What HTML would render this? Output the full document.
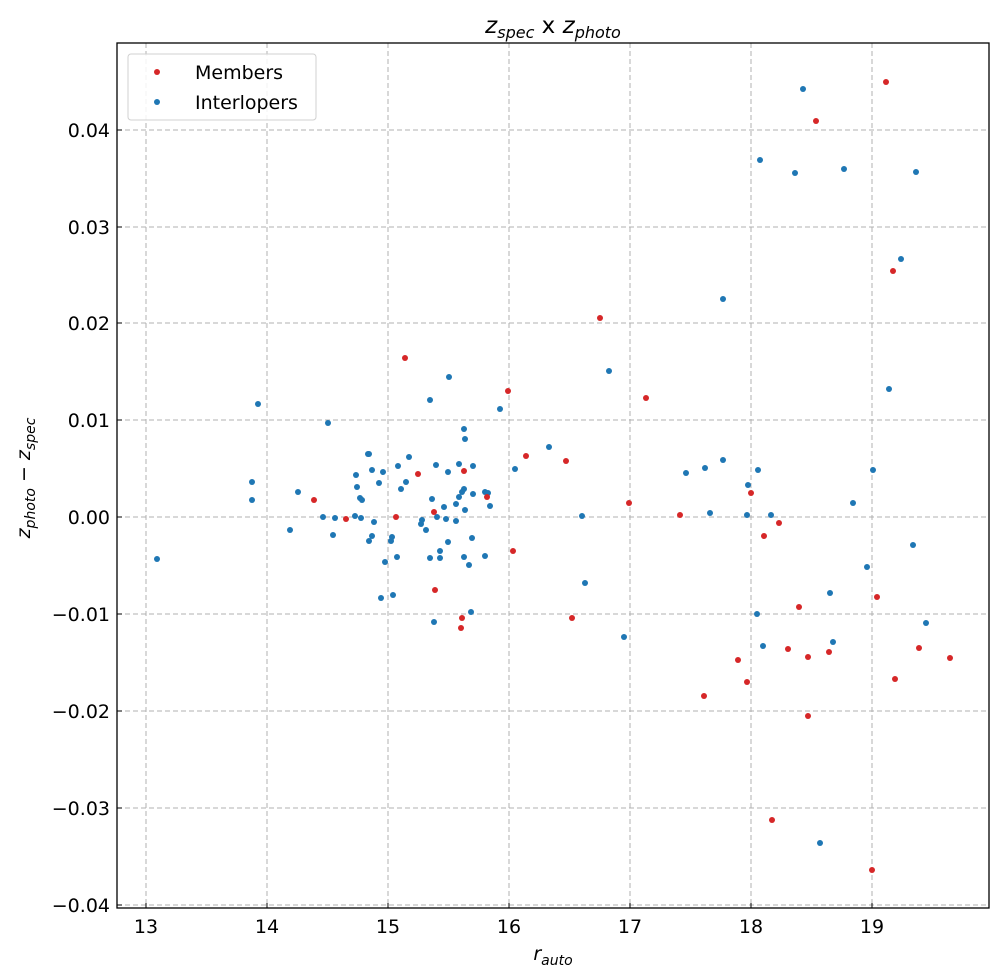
<!DOCTYPE html>
<html><head><meta charset="utf-8"><style>body{margin:0;background:#fff}svg{display:block}text{font-family:"DejaVu Sans","Liberation Sans",sans-serif;fill:#000}</style></head><body>
<svg width="1004" height="980" viewBox="0 0 1004 980" xmlns="http://www.w3.org/2000/svg">
<rect width="1004" height="980" fill="#fff"/>
<g stroke="#b0b0b0" stroke-width="1" stroke-dasharray="5,3">
<line x1="146" y1="43" x2="146" y2="908"/><line x1="267" y1="43" x2="267" y2="908"/><line x1="388" y1="43" x2="388" y2="908"/><line x1="509" y1="43" x2="509" y2="908"/><line x1="630" y1="43" x2="630" y2="908"/><line x1="751" y1="43" x2="751" y2="908"/><line x1="872" y1="43" x2="872" y2="908"/>
<line x1="117" y1="130" x2="989" y2="130"/><line x1="117" y1="227" x2="989" y2="227"/><line x1="117" y1="323" x2="989" y2="323"/><line x1="117" y1="420" x2="989" y2="420"/><line x1="117" y1="517" x2="989" y2="517"/><line x1="117" y1="614" x2="989" y2="614"/><line x1="117" y1="711" x2="989" y2="711"/><line x1="117" y1="808" x2="989" y2="808"/><line x1="117" y1="905" x2="989" y2="905"/>
</g>
<g fill="#1f77b4">
<circle cx="803" cy="89" r="3"/><circle cx="760" cy="160" r="3"/><circle cx="795" cy="173" r="3"/><circle cx="844" cy="169" r="3"/><circle cx="916" cy="172" r="3"/><circle cx="901" cy="259" r="3"/><circle cx="723" cy="299" r="3"/><circle cx="609" cy="371" r="3"/><circle cx="889" cy="389" r="3"/><circle cx="258" cy="404" r="3"/><circle cx="449" cy="377" r="3"/><circle cx="430" cy="400" r="3"/><circle cx="328" cy="423" r="3"/><circle cx="500" cy="409" r="3"/><circle cx="549" cy="447" r="3"/><circle cx="723" cy="460" r="3"/><circle cx="758" cy="470" r="3"/><circle cx="873" cy="470" r="3"/><circle cx="686" cy="473" r="3"/><circle cx="705" cy="468" r="3"/><circle cx="748" cy="485" r="3"/><circle cx="710" cy="513" r="3"/><circle cx="747" cy="515" r="3"/><circle cx="771" cy="515" r="3"/><circle cx="853" cy="503" r="3"/><circle cx="867" cy="567" r="3"/><circle cx="913" cy="545" r="3"/><circle cx="926" cy="623" r="3"/><circle cx="830" cy="593" r="3"/><circle cx="833" cy="642" r="3"/><circle cx="757" cy="614" r="3"/><circle cx="763" cy="646" r="3"/><circle cx="820" cy="843" r="3"/><circle cx="582" cy="516" r="3"/><circle cx="585" cy="583" r="3"/><circle cx="624" cy="637" r="3"/><circle cx="515" cy="469" r="3"/>
<circle cx="252" cy="482" r="3"/><circle cx="252" cy="500" r="3"/><circle cx="298" cy="492" r="3"/><circle cx="290" cy="530" r="3"/><circle cx="157" cy="559" r="3"/><circle cx="323" cy="517" r="3"/><circle cx="335" cy="518" r="3"/><circle cx="333" cy="535" r="3"/><circle cx="356" cy="475" r="3"/><circle cx="357" cy="487" r="3"/><circle cx="355" cy="516" r="3"/><circle cx="360" cy="498" r="3"/><circle cx="368" cy="454" r="3"/><circle cx="381" cy="598" r="3"/><circle cx="393" cy="595" r="3"/><circle cx="385" cy="562" r="3"/><circle cx="434" cy="622" r="3"/><circle cx="469" cy="565" r="3"/><circle cx="471" cy="612" r="3"/><circle cx="464" cy="557" r="3"/><circle cx="472" cy="538" r="3"/>
<circle cx="464" cy="429" r="3"/><circle cx="465" cy="439" r="3"/><circle cx="369" cy="454" r="3"/><circle cx="409" cy="457" r="3"/><circle cx="372" cy="470" r="3"/><circle cx="383" cy="472" r="3"/><circle cx="398" cy="466" r="3"/><circle cx="436" cy="465" r="3"/><circle cx="448" cy="472" r="3"/><circle cx="459" cy="464" r="3"/><circle cx="473" cy="466" r="3"/><circle cx="379" cy="483" r="3"/><circle cx="406" cy="482" r="3"/><circle cx="401" cy="489" r="3"/><circle cx="464" cy="489" r="3"/><circle cx="462" cy="492" r="3"/><circle cx="459" cy="497" r="3"/><circle cx="456" cy="504" r="3"/><circle cx="432" cy="499" r="3"/><circle cx="473" cy="494" r="3"/><circle cx="485" cy="492" r="3"/><circle cx="488" cy="493" r="3"/><circle cx="490" cy="506" r="3"/><circle cx="465" cy="510" r="3"/><circle cx="444" cy="507" r="3"/><circle cx="362" cy="500" r="3"/><circle cx="437" cy="517" r="3"/><circle cx="446" cy="519" r="3"/><circle cx="456" cy="521" r="3"/><circle cx="422" cy="520" r="3"/><circle cx="421" cy="524" r="3"/><circle cx="426" cy="530" r="3"/><circle cx="374" cy="522" r="3"/><circle cx="372" cy="536" r="3"/><circle cx="369" cy="541" r="3"/><circle cx="392" cy="537" r="3"/><circle cx="391" cy="541" r="3"/><circle cx="361" cy="518" r="3"/><circle cx="448" cy="542" r="3"/><circle cx="440" cy="551" r="3"/><circle cx="440" cy="558" r="3"/><circle cx="430" cy="558" r="3"/><circle cx="397" cy="557" r="3"/><circle cx="485" cy="556" r="3"/>
</g>
<g fill="#d62728">
<circle cx="886" cy="82" r="3"/><circle cx="816" cy="121" r="3"/><circle cx="600" cy="318" r="3"/><circle cx="646" cy="398" r="3"/><circle cx="405" cy="358" r="3"/><circle cx="508" cy="391" r="3"/><circle cx="526" cy="456" r="3"/><circle cx="566" cy="461" r="3"/><circle cx="464" cy="471" r="3"/><circle cx="418" cy="474" r="3"/><circle cx="487" cy="497" r="3"/><circle cx="314" cy="500" r="3"/><circle cx="346" cy="519" r="3"/><circle cx="396" cy="517" r="3"/><circle cx="434" cy="512" r="3"/><circle cx="629" cy="503" r="3"/><circle cx="680" cy="515" r="3"/><circle cx="751" cy="493" r="3"/><circle cx="513" cy="551" r="3"/><circle cx="435" cy="590" r="3"/><circle cx="462" cy="618" r="3"/><circle cx="461" cy="628" r="3"/><circle cx="572" cy="618" r="3"/><circle cx="764" cy="536" r="3"/><circle cx="779" cy="523" r="3"/><circle cx="893" cy="271" r="3"/><circle cx="877" cy="597" r="3"/><circle cx="799" cy="607" r="3"/><circle cx="788" cy="649" r="3"/><circle cx="808" cy="657" r="3"/><circle cx="829" cy="652" r="3"/><circle cx="738" cy="660" r="3"/><circle cx="919" cy="648" r="3"/><circle cx="950" cy="658" r="3"/><circle cx="704" cy="696" r="3"/><circle cx="895" cy="679" r="3"/><circle cx="747" cy="682" r="3"/><circle cx="808" cy="716" r="3"/><circle cx="772" cy="820" r="3"/><circle cx="872" cy="870" r="3"/>
</g>
<rect x="117" y="43" width="872" height="865" fill="none" stroke="#000" stroke-width="1.3"/>
<g stroke="#000" stroke-width="1">
<line x1="146" y1="908" x2="146" y2="903"/><line x1="267" y1="908" x2="267" y2="903"/><line x1="388" y1="908" x2="388" y2="903"/><line x1="509" y1="908" x2="509" y2="903"/><line x1="630" y1="908" x2="630" y2="903"/><line x1="751" y1="908" x2="751" y2="903"/><line x1="872" y1="908" x2="872" y2="903"/>
<line x1="117" y1="130" x2="122" y2="130"/><line x1="117" y1="227" x2="122" y2="227"/><line x1="117" y1="323" x2="122" y2="323"/><line x1="117" y1="420" x2="122" y2="420"/><line x1="117" y1="517" x2="122" y2="517"/><line x1="117" y1="614" x2="122" y2="614"/><line x1="117" y1="711" x2="122" y2="711"/><line x1="117" y1="808" x2="122" y2="808"/><line x1="117" y1="905" x2="122" y2="905"/>
</g>
<g font-size="19" text-anchor="middle">
<text x="146" y="933">13</text><text x="267" y="933">14</text><text x="388" y="933">15</text><text x="509" y="933">16</text><text x="630" y="933">17</text><text x="751" y="933">18</text><text x="872" y="933">19</text>
</g>
<g font-size="19" text-anchor="end">
<text x="110" y="137">0.04</text><text x="110" y="234">0.03</text><text x="110" y="330">0.02</text><text x="110" y="427">0.01</text><text x="110" y="524">0.00</text><text x="110" y="621">−0.01</text><text x="110" y="718">−0.02</text><text x="110" y="815">−0.03</text><text x="110" y="912">−0.04</text>
</g>
<text x="553" y="33" font-size="23" text-anchor="middle"><tspan font-style="italic">z</tspan><tspan font-style="italic" font-size="16" dy="5">spec</tspan><tspan dy="-5"> x </tspan><tspan font-style="italic">z</tspan><tspan font-style="italic" font-size="16" dy="5">photo</tspan></text>
<text x="553" y="960" font-size="19" text-anchor="middle"><tspan font-style="italic">r</tspan><tspan font-style="italic" font-size="14" dy="5">auto</tspan></text>
<text transform="translate(30,478) rotate(-90)" font-size="19" text-anchor="middle"><tspan font-style="italic">z</tspan><tspan font-style="italic" font-size="14" dy="5">photo</tspan><tspan dy="-5"> − </tspan><tspan font-style="italic">z</tspan><tspan font-style="italic" font-size="14" dy="5">spec</tspan></text>
<rect x="128" y="54" width="188" height="66" rx="3" fill="#fff" fill-opacity="0.85" stroke="#d0d0d0"/>
<circle cx="157" cy="72" r="3" fill="#d62728"/><circle cx="157" cy="102" r="3" fill="#1f77b4"/>
<text x="195" y="79" font-size="19">Members</text><text x="195" y="109" font-size="19">Interlopers</text>
</svg>
</body></html>
